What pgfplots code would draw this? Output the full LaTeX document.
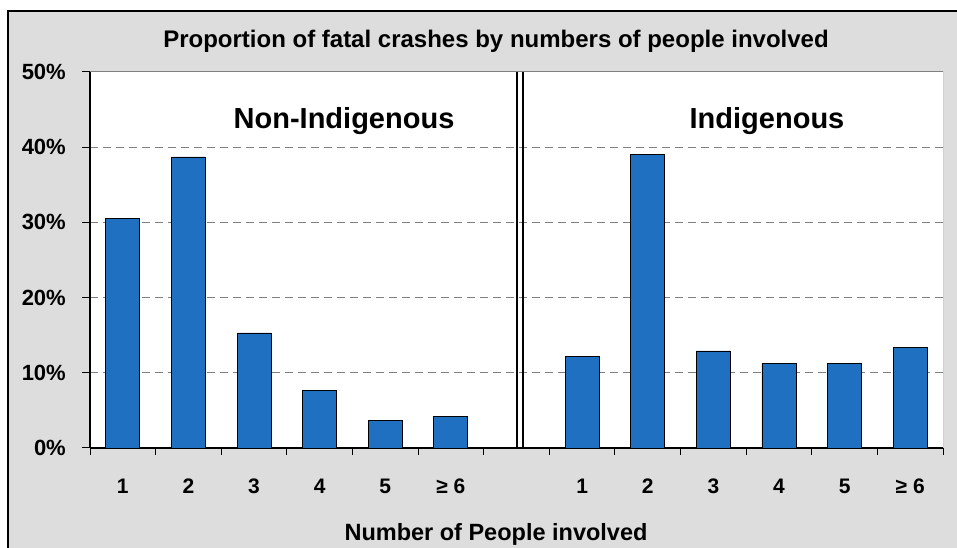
\documentclass[border=0pt]{standalone}
\usepackage{fontspec}
\setmainfont{Liberation Sans}
\usepackage{pgfplots}
\pgfplotsset{compat=1.18}
\definecolor{barblue}{RGB}{31,112,193}
\definecolor{chartbg}{RGB}{221,221,221}
\definecolor{gridgray}{RGB}{128,128,128}

\begin{document}
\begin{tikzpicture}[x=1pt,y=1pt]
\useasboundingbox (0,0) rectangle (957,548);
\clip (0,0) rectangle (957,548);
\fill[chartbg] (8,-20) rectangle (990,537);
\draw[black, line width=1.5pt] (8,-20) -- (8,537) -- (990,537);
\begin{axis}[
    at={(90pt,100pt)}, anchor=south west,
    width=853pt, height=376pt, scale only axis,
    xmin=0.5, xmax=13.5, ymin=0, ymax=50,
    axis x line*=bottom, axis y line*=left,
    axis line style={black, line width=1.2pt},
    axis background/.style={fill=white},
    ybar, bar width=34pt,
    ytick={0,10,...,50},
    yticklabels={0\%,10\%,20\%,30\%,40\%,50\%},
    xtick={1,2,3,4,5,6,8,9,10,11,12,13},
    xticklabels={1,2,3,4,5,≥ 6,1,2,3,4,5,≥ 6},
    minor xtick={0.5,1.5,...,13.5},
    major x tick style={draw=none},
    tick align=outside,
    major tick length=8pt, minor tick length=7pt,
    tick style={black, line width=1pt},
    ymajorgrids,
    major grid style={gridgray, dash pattern=on 8pt off 5pt, line width=1pt},
    yticklabel style={font=\bfseries\fontsize{22}{22}\selectfont, anchor=east, inner sep=0pt, xshift=-16pt},
    xticklabel style={font=\bfseries\fontsize{21}{21}\selectfont, anchor=base, yshift=-38pt},
]
\addplot[fill=barblue, draw=black, line width=0.8pt] coordinates {
    (1,30.5) (2,38.7) (3,15.3) (4,7.6) (5,3.7) (6,4.2)
    (8,12.2) (9,39.0) (10,12.9) (11,11.3) (12,11.3) (13,13.4)
};
\draw[gridgray, line width=1pt] (rel axis cs:0,1) -- (rel axis cs:1,1) -- (rel axis cs:1,0);
\draw[black, line width=2pt] ([xshift=0.5pt,yshift=-4pt]axis cs:7,0) -- ([xshift=0.5pt]axis cs:7,50);
\draw[black, line width=2pt] ([xshift=6pt,yshift=-4pt]axis cs:7,0) -- ([xshift=6pt]axis cs:7,50);
\end{axis}
\node[anchor=base, font=\bfseries\fontsize{24}{24}\selectfont] at (496,500) {Proportion of fatal crashes by numbers of people involved};
\node[anchor=base, font=\bfseries\fontsize{29}{29}\selectfont] at (344,419.7) {Non-Indigenous};
\node[anchor=base, font=\bfseries\fontsize{29}{29}\selectfont] at (767,419.7) {Indigenous};
\node[anchor=base, font=\bfseries\fontsize{23.5}{23.5}\selectfont] at (496,8) {Number of People involved};
\end{tikzpicture}
\end{document}
